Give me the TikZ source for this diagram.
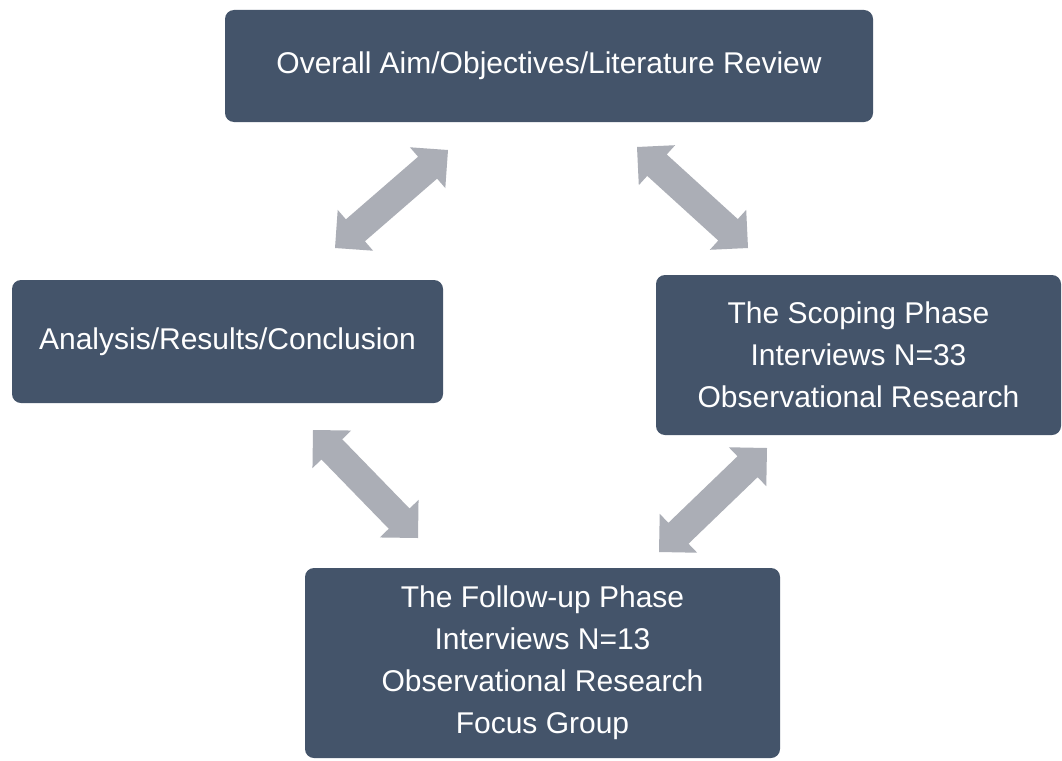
\documentclass[tikz,border=0pt]{standalone}
\usepackage{fontspec}
\setmainfont{Liberation Sans}
\usetikzlibrary{calc}
\definecolor{boxblue}{HTML}{44546A}
\definecolor{arrowgray}{HTML}{ABAEB6}
\newcommand{\hl}{27pt}
\newcommand{\hw}{27pt}
\newcommand{\sw}{14.5pt}
\newcommand{\blockarrow}[2]{%
  \fill[arrowgray] (#1)
    -- ($(#1)!\hl!(#2)!\hw!90:(#2)$)
    -- ($(#1)!\hl!(#2)!\sw!90:(#2)$)
    -- ($(#2)!\hl!(#1)!\sw!-90:(#1)$)
    -- ($(#2)!\hl!(#1)!\hw!-90:(#1)$)
    -- (#2)
    -- ($(#2)!\hl!(#1)!\hw!90:(#1)$)
    -- ($(#2)!\hl!(#1)!\sw!90:(#1)$)
    -- ($(#1)!\hl!(#2)!\sw!-90:(#2)$)
    -- ($(#1)!\hl!(#2)!\hw!-90:(#2)$)
    -- cycle;}
\tikzset{
  phasebox/.style={fill=boxblue, draw=none, rounded corners=9pt, align=center,
    text=white, font=\fontsize{30}{42}\selectfont, inner sep=0pt}
}
\begin{document}
\begin{tikzpicture}[x=1pt,y=-1pt]
\useasboundingbox (0,0) rectangle (1062,760);
\fill[white] (0,0) rectangle (1062,760);
\node[phasebox, minimum width=648pt, minimum height=112pt] (aim) at (549,66) {Overall Aim/Objectives/Literature Review};
\node[phasebox, minimum width=431pt, minimum height=123pt] (ana) at (227.5,341.5) {Analysis/Results/Conclusion};
\node[phasebox, minimum width=405pt, minimum height=160pt] (scope) at (858.5,355) {The Scoping Phase\\Interviews N=33\\Observational Research};
\node[phasebox, minimum width=475pt, minimum height=190pt] (follow) at (542.5,663) {The Follow-up Phase\\Interviews N=13\\Observational Research\\Focus Group};
\coordinate (a1s) at (335,248);
\coordinate (a1e) at (448,150);
\coordinate (a2s) at (637,147);
\coordinate (a2e) at (748,248);
\coordinate (a3s) at (313,430);
\coordinate (a3e) at (418,538);
\coordinate (a4s) at (767,448);
\coordinate (a4e) at (659,552);
\blockarrow{a1s}{a1e}
\blockarrow{a2s}{a2e}
\blockarrow{a3s}{a3e}
\blockarrow{a4s}{a4e}
\end{tikzpicture}
\end{document}
